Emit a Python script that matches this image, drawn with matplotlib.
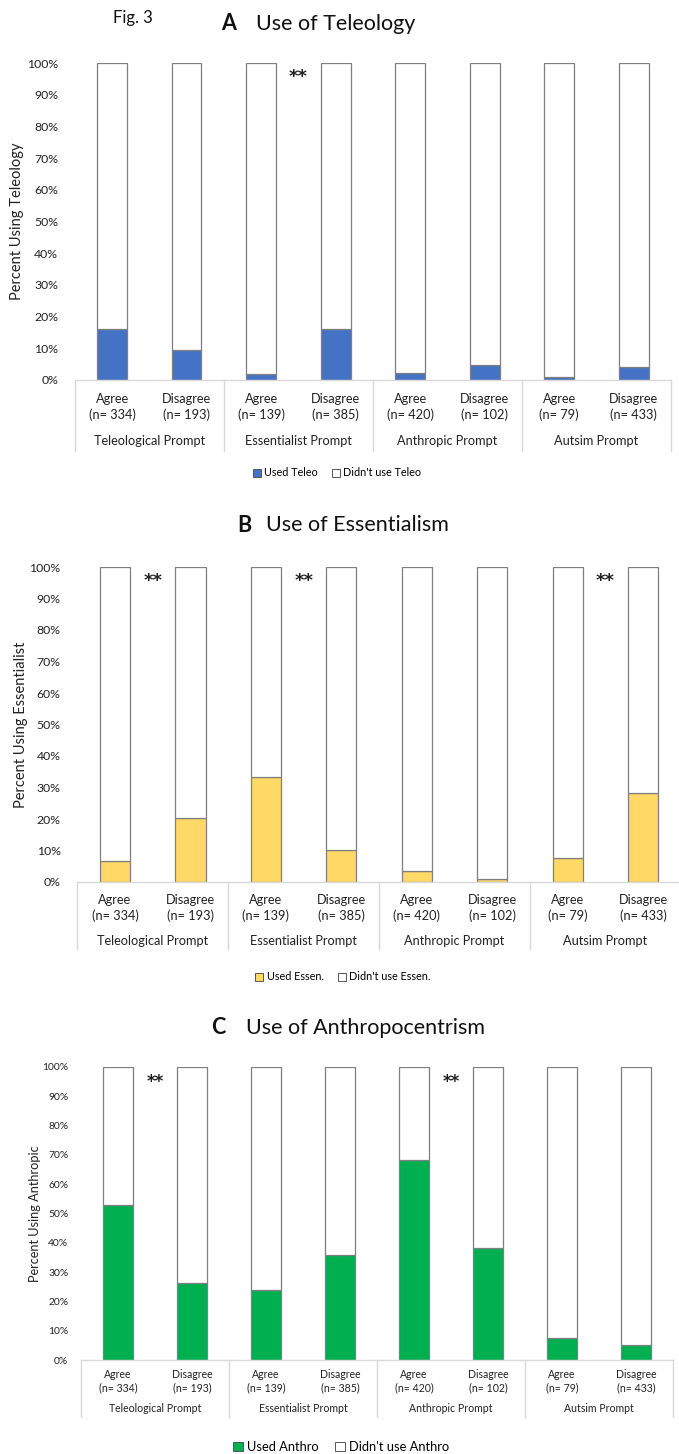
import matplotlib
matplotlib.use("Agg")
import matplotlib.pyplot as plt
import matplotlib.transforms as mtransforms
from matplotlib.patches import Patch
from matplotlib.ticker import PercentFormatter
import numpy as np

plt.rcParams['font.family'] = ['Lato', 'DejaVu Sans']

W, H = 679, 1454

# ---- data -------------------------------------------------------------
responses = ['Agree', 'Disagree'] * 4
group_sizes = [334, 193, 139, 385, 420, 102, 79, 433]
prompts = ['Teleological Prompt', 'Essentialist Prompt', 'Anthropic Prompt', 'Autsim Prompt']

teleo_used = [16.1, 9.6, 1.8, 16.1, 2.1, 4.6, 1.1, 4.2]
essen_used = [6.8, 20.2, 33.2, 10.2, 3.6, 0.9, 7.5, 28.4]
anthro_used = [53.0, 26.3, 23.8, 35.7, 68.4, 38.2, 7.6, 5.1]

# prompt groups whose agree/disagree difference is marked significant
teleo_sig = [1]
essen_sig = [0, 1, 3]
anthro_sig = [0, 2]

EDGE = '#7f7f7f'
AXIS_GREY = '#d9d9d9'

fig = plt.figure(figsize=(W / 100, H / 100), dpi=100)


def panel(box, used, color, sig_groups, ylabel, leg_labels, letter, title,
          title_pos, legend_pos, st):
    left, right, top, bottom = box
    ax_h = bottom - top
    ax = fig.add_axes([left / W, 1 - bottom / H, (right - left) / W, ax_h / H])
    x = np.arange(len(used))
    frac = np.asarray(used) / 100.0
    ax.bar(x, frac, width=0.4, color=color, edgecolor=EDGE, linewidth=0.9)
    ax.bar(x, 1 - frac, bottom=frac, width=0.4, color='white',
           edgecolor=EDGE, linewidth=0.9)
    ax.set_xlim(-0.5, len(used) - 0.5)
    ax.set_ylim(0, 1)
    ax.set_yticks(np.linspace(0, 1, 11))
    ax.yaxis.set_major_formatter(PercentFormatter(xmax=1, decimals=0))
    ax.tick_params(axis='y', length=0, pad=st['ypad'], labelsize=st['ytick'],
                   labelcolor='#222222')
    ax.set_xticks([])
    for s in ('left', 'top', 'right'):
        ax.spines[s].set_visible(False)
    ax.spines['bottom'].set_color(AXIS_GREY)
    ax.spines['bottom'].set_linewidth(1.0)
    ax.set_ylabel(ylabel, fontsize=st['ylab'], labelpad=st['ylabpad'],
                  color='#222222')

    trans = mtransforms.blended_transform_factory(ax.transData, ax.transAxes)
    # category labels under each bar
    for i, (r, n) in enumerate(zip(responses, group_sizes)):
        ax.annotate(r, xy=(i, 0), xycoords=trans, xytext=(0, -st['d1']),
                    textcoords='offset pixels', ha='center', va='center',
                    fontsize=st['cat'], color='#222222')
        ax.annotate(f'(n= {n})', xy=(i, 0), xycoords=trans,
                    xytext=(0, -st['d2']), textcoords='offset pixels',
                    ha='center', va='center', fontsize=st['cat'],
                    color='#222222')
    # prompt group labels and separators
    for g, p in enumerate(prompts):
        ax.annotate(p, xy=(2 * g + 0.5, 0), xycoords=trans,
                    xytext=(0, -st['d3']), textcoords='offset pixels',
                    ha='center', va='center', fontsize=st['cat'],
                    color='#222222')
    for b in np.arange(-0.5, len(used), 2.0):
        ax.plot([b, b], [0, -st['dsep'] / ax_h], transform=trans,
                color=AXIS_GREY, lw=1.0, clip_on=False)
    # significance markers
    for g in sig_groups:
        ax.text(2 * g + 0.5, st['sig_y'], '**', ha='center', va='center',
                fontsize=st['sig'], fontweight='bold', color='#222222',
                family='DejaVu Sans')

    # title
    tx_letter, tx_text, ty = title_pos
    fig.text(tx_letter / W, 1 - ty / H, letter, ha='right', va='center',
             fontsize=st['title'], fontweight='bold', color='#111111')
    fig.text(tx_text / W, 1 - ty / H, title, ha='left', va='center',
             fontsize=st['title'], color='#111111')

    # legend
    handles = [Patch(facecolor=color, edgecolor='#555555', linewidth=0.7),
               Patch(facecolor='white', edgecolor='#555555', linewidth=0.7)]
    fig.legend(handles, leg_labels, loc='center',
               bbox_to_anchor=(legend_pos[0] / W, 1 - legend_pos[1] / H),
               ncol=2, frameon=False, fontsize=st['leg'],
               handlelength=0.75, handleheight=0.75, handletextpad=0.3,
               columnspacing=1.3, borderpad=0)
    return ax


style_a = dict(ypad=12, ytick=8.8, ylab=10.5, ylabpad=2, cat=9.2,
               d1=19, d2=35, d3=61, dsep=71, sig=13, sig_y=0.955,
               title=15.5, leg=7.8)
style_b = dict(style_a, d1=18, d2=34, d3=59, dsep=67, ylabpad=1)
style_c = dict(ypad=9, ytick=7.4, ylab=9.2, ylabpad=1, cat=7.6,
               d1=14, d2=28, d3=49, dsep=57, sig=12, sig_y=0.95,
               title=15.5, leg=9.3)

fig.text(133 / W, 1 - 18 / H, 'Fig. 3', ha='center', va='center',
         fontsize=12, color='#111111')

panel((74.75, 671, 63, 380), teleo_used, '#4472C4', teleo_sig,
      'Percent Using Teleology', ['Used Teleo', "Didn't use Teleo"],
      'A', 'Use of Teleology', (236, 256, 24), (337, 473), style_a)

panel((77.25, 681, 567, 882), essen_used, '#FFD966', essen_sig,
      'Percent Using Essentialist', ['Used Essen.', "Didn't use Essen."],
      'B', 'Use of Essentialism', (251, 266, 525), (343, 977), style_b)

panel((81, 673, 1067, 1360), anthro_used, '#00B050', anthro_sig,
      'Percent Using Anthropic', ['Used Anthro', "Didn't use Anthro"],
      'C', 'Use of Anthropocentrism', (225, 246, 1028), (341, 1447), style_c)

fig.savefig('out.png', dpi=100, facecolor='white')
